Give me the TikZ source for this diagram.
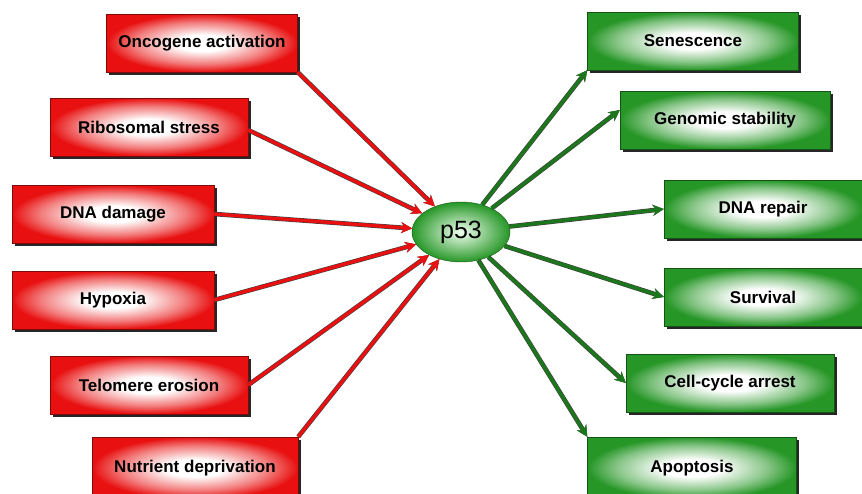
\documentclass[tikz,border=0pt]{standalone}
\usepackage{fontspec}
\setmainfont{Liberation Sans}
\usetikzlibrary{shapes.geometric,shadows,arrows.meta}
\definecolor{causered}{RGB}{232,16,16}
\definecolor{effectgreen}{RGB}{38,150,38}
\definecolor{effectline}{RGB}{28,118,28}

% glossy fill: white in the middle, full colour at the rim
\pgfdeclareradialshading{redglow}{\pgfpoint{0bp}{0bp}}{color(0bp)=(white); color(7bp)=(white);
  color(18bp)=(causered!55!white); color(25bp)=(causered); color(50bp)=(causered)}
\pgfdeclareradialshading{greenglow}{\pgfpoint{0bp}{0bp}}{color(0bp)=(white); color(7bp)=(white);
  color(18bp)=(effectgreen!55!white); color(25bp)=(effectgreen); color(50bp)=(effectgreen)}

\begin{document}
\begin{tikzpicture}[x=1pt, y=-1pt,
                    every node/.style={font=\fontsize{17}{20}\selectfont\bfseries},
                    causebox/.style={rectangle, minimum height=58pt, shading=redglow,
                                     draw=causered!55!black, line width=0.4pt,
                                     drop shadow={shadow xshift=2.5pt, shadow yshift=-2.5pt, fill=black!85, opacity=1}},
                    effectbox/.style={rectangle, minimum height=58pt, shading=greenglow,
                                      draw=effectgreen!55!black, line width=0.4pt,
                                      drop shadow={shadow xshift=2.5pt, shadow yshift=-2.5pt, fill=black!85, opacity=1}},
                    causearrow/.style={draw=causered, line width=3.4pt, -{Stealth[length=11pt,width=11pt]},
                                       preaction={draw=black!75, line width=4.6pt}},
                    effectarrow/.style={draw=effectline, line width=3.4pt, -{Stealth[length=11pt,width=11pt]},
                                        preaction={draw=black!75, line width=4.6pt}}]

    \useasboundingbox (0,0) rectangle (862,493);

    % Centre node
    \node[ellipse, minimum width=98pt, minimum height=60pt, inner color=green!6!white, outer color=effectgreen,
          draw=effectgreen!60!black, font=\fontsize{25}{28}\selectfont] (p53) at (461,232) {p53};

    % Causes on the left
    \node[causebox, minimum width=191pt] (oncogene) at (202,43) {Oncogene activation};
    \node[causebox, minimum width=198pt] (ribosome) at (149,127) {Ribosomal stress};
    \node[causebox, minimum width=202pt] (dnadamage) at (113,214) {DNA damage};
    \node[causebox, minimum width=202pt] (hypoxia) at (113,300) {Hypoxia};
    \node[causebox, minimum width=198pt] (telomere) at (149,385) {Telomere erosion};
    \node[causebox, minimum width=206pt, minimum height=62pt] (nutrient) at (195,468) {Nutrient deprivation};

    % Outcomes on the right
    \node[effectbox, minimum width=211pt] (senescence) at (693,41) {Senescence};
    \node[effectbox, minimum width=210pt] (genomic) at (725,120) {Genomic stability};
    \node[effectbox, minimum width=198pt] (dnarepair) at (763,209) {DNA repair};
    \node[effectbox, minimum width=198pt] (survival) at (763,297) {Survival};
    \node[effectbox, minimum width=208pt] (cellcycle) at (730,383) {Cell-cycle arrest};
    \node[effectbox, minimum width=209pt, minimum height=62pt] (apoptosis) at (692,468) {Apoptosis};

    % Red arrows into p53
    \draw[causearrow] (oncogene.south east) -- (p53);
    \draw[causearrow] ([yshift=-3pt]ribosome.east) -- (p53);
    \draw[causearrow] (dnadamage.east) -- (p53);
    \draw[causearrow] (hypoxia.east) -- (p53);
    \draw[causearrow] (telomere.east) -- (p53);
    \draw[causearrow] (nutrient.north east) -- (p53);

    % Green arrows out of p53
    \draw[effectarrow] (p53) -- (senescence.south west);
    \draw[effectarrow] (p53) -- ([yshift=10pt]genomic.west);
    \draw[effectarrow] (p53) -- (dnarepair.west);
    \draw[effectarrow] (p53) -- (survival.west);
    \draw[effectarrow] (p53) -- (cellcycle.west);
    \draw[effectarrow] (p53) -- (apoptosis.north west);
\end{tikzpicture}
\end{document}
